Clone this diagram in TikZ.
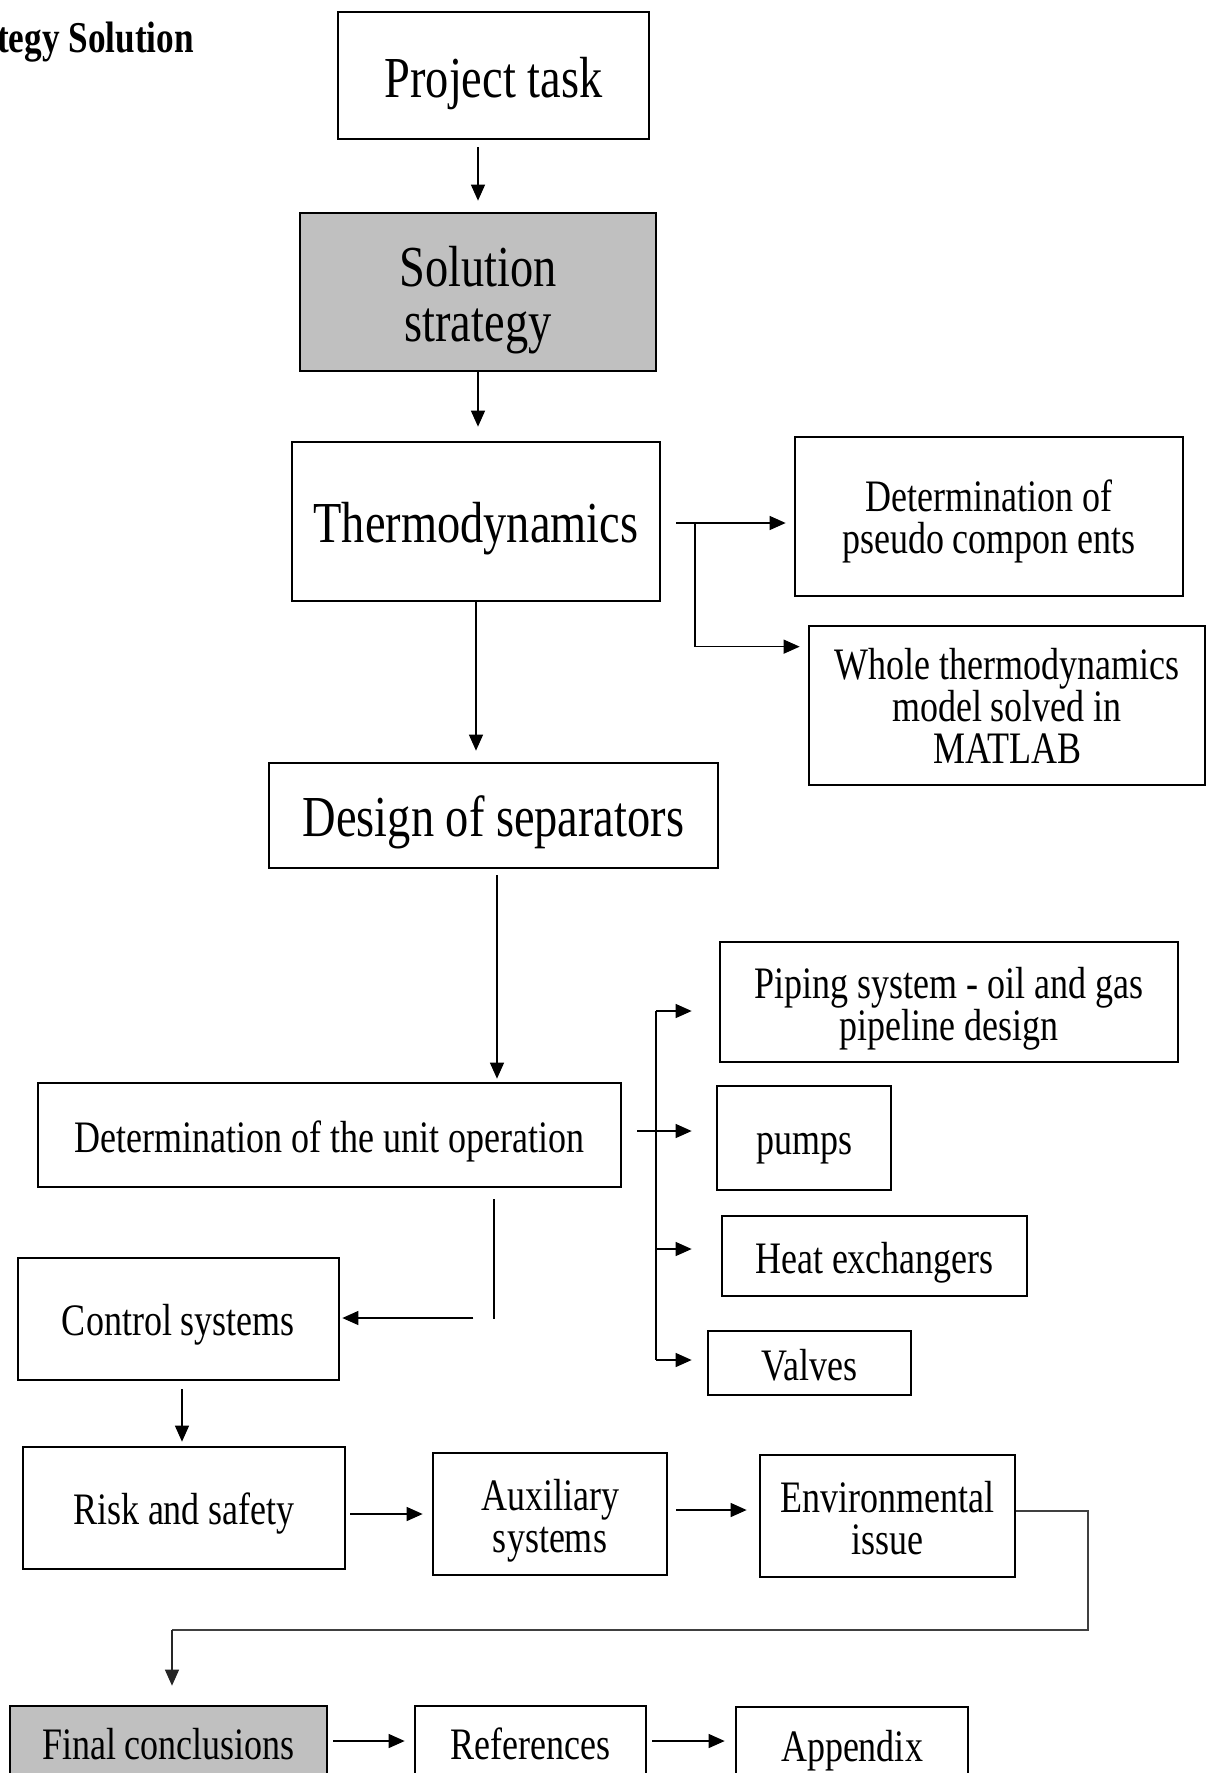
\documentclass[tikz,border=0pt]{standalone}
\usepackage{fontspec}
\usetikzlibrary{arrows.meta,calc}
\newfontfamily\tnr[FakeStretch=0.8]{Liberation Serif}
\newcommand{\bigtxt}{\tnr\fontsize{58}{55}\selectfont}
\newcommand{\midtxt}{\tnr\fontsize{45}{42}\selectfont}
\definecolor{boxgray}{HTML}{C0C0C0}
\tikzset{
  box/.style={draw=black, line width=2.7pt, rectangle, inner sep=0pt},
  bigtx/.style={inner sep=0pt, align=center, font=\bigtxt},
  midtx/.style={inner sep=0pt, align=center, font=\midtxt},
  arr/.style={line width=1.3pt, -{Triangle[length=16pt,width=14pt]}},
  ln/.style={line width=1.3pt},
}
\begin{document}
\begin{tikzpicture}[x=1pt,y=-1pt]
\clip (0,0) rectangle (1213,1773);
\fill[white] (0,0) rectangle (1213,1773);

\node[anchor=base west, inner sep=0pt, font={\tnr\bfseries\fontsize{44}{44}\selectfont}] (title) at (-3,52) {tegy Solution};

% boxes
\node[box, minimum width=311pt, minimum height=127pt] (proj) at (493.5,75.5) {};
\node[box, fill=boxgray, minimum width=356pt, minimum height=158pt] (sol) at (478,292) {};
\node[box, minimum width=368pt, minimum height=159pt] (thermo) at (476,521.5) {};
\node[box, minimum width=388pt, minimum height=159pt] (pseudo) at (989,516.5) {};
\node[box, minimum width=396pt, minimum height=159pt] (whole) at (1007,705.5) {};
\node[box, minimum width=449pt, minimum height=105pt] (design) at (493.5,815.5) {};
\node[box, minimum width=458pt, minimum height=120pt] (piping) at (949,1002) {};
\node[box, minimum width=583pt, minimum height=104pt] (unitop) at (329.5,1135) {};
\node[box, minimum width=174pt, minimum height=104pt] (pumps) at (804,1138) {};
\node[box, minimum width=305pt, minimum height=80pt] (heat) at (874.5,1256) {};
\node[box, minimum width=203pt, minimum height=64pt] (valves) at (809.5,1363) {};
\node[box, minimum width=321pt, minimum height=122pt] (control) at (178.5,1319) {};
\node[box, minimum width=322pt, minimum height=122pt] (risk) at (184,1508) {};
\node[box, minimum width=234pt, minimum height=122pt] (aux) at (550,1514) {};
\node[box, minimum width=255pt, minimum height=122pt] (env) at (887.5,1516) {};
\node[box, fill=boxgray, minimum width=317pt, minimum height=76pt] (final) at (168.5,1744) {};
\node[box, minimum width=231pt, minimum height=76pt] (refs) at (530.5,1744) {};
\node[box, minimum width=232pt, minimum height=76pt] (appx) at (852,1745) {};

% texts
\node[bigtx] (projT) at ([yshift=-8pt]proj.center) {Project task};
\node[bigtx] (solT) at ([yshift=-8pt]sol.center) {Solution\\strategy};
\node[bigtx] (thermoT) at ([yshift=-7pt]thermo.center) {Thermodynamics};
\node[midtx] (pseudoT) at ([yshift=-5pt]pseudo.center) {Determination of\\pseudo compon ents};
\node[midtx] (wholeT) at ([yshift=0pt]whole.center) {Whole thermodynamics\\model solved in\\MATLAB};
\node[bigtx] (designT) at ([yshift=-7pt]design.center) {Design of separators};
\node[midtx] (pipingT) at ([yshift=-7pt]piping.center) {Piping system - oil and gas\\pipeline design};
\node[midtx] (unitopT) at ([yshift=-6pt]unitop.center) {Determination of the unit operation};
\node[midtx] (pumpsT) at ([yshift=-11pt]pumps.center) {pumps};
\node[midtx] (heatT) at ([yshift=-7pt]heat.center) {Heat exchangers};
\node[midtx] (valvesT) at ([yshift=-2pt]valves.center) {Valves};
\node[midtx] (controlT) at ([yshift=-6pt]control.center) {Control systems};
\node[midtx] (riskT) at ([yshift=-5pt]risk.center) {Risk and safety};
\node[midtx] (auxT) at ([yshift=-7pt]aux.center) {Auxiliary\\systems};
\node[midtx] (envT) at ([yshift=-2pt]env.center) {Environmental\\issue};
\node[midtx] (finalT) at (final.center) {Final conclusions};
\node[midtx] (refsT) at (refs.center) {References};
\node[midtx] (appxT) at ([yshift=-6pt]appx.center) {Appendix};

% main vertical flow
\draw[arr] ([yshift=-7pt]proj.south -| sol.center) -- ([yshift=11pt]sol.north);
\draw[arr] (sol.south) -- ([yshift=14pt]thermo.north -| sol.south);
\draw[arr] (thermo.south) -- ([yshift=11pt]design.north -| thermo.south);
\draw[arr] ([xshift=3.5pt,yshift=-6pt]design.south) -- ([xshift=167.5pt,yshift=3pt]unitop.north);

% thermodynamics branches
\coordinate (tb) at (695,523);
\draw[arr] ([xshift=15pt,yshift=-1.5pt]thermo.east) -- ([xshift=-8pt]pseudo.west |- tb);
\draw[arr] (tb) |- ([xshift=-8pt,yshift=-22pt]whole.north west);

% unit operation branches
\coordinate (t1) at (656,1011);
\coordinate (t4) at (656,1360);
\draw[ln] (t1) -- (t4);
\draw[arr] (t1) -- ([xshift=-27pt,yshift=-9pt]piping.west);
\draw[arr] ([xshift=15pt,yshift=4pt]unitop.east) -- ([xshift=-24pt,yshift=7pt]pumps.west);
\draw[arr] (656,1249) -- ([xshift=-29pt,yshift=7pt]heat.west);
\draw[arr] (t4) -- ([xshift=-15pt,yshift=3pt]valves.west);

% unit operation to control systems
\draw[ln] ([xshift=164.5pt,yshift=-11pt]unitop.south) -- ([xshift=164.5pt,yshift=-131pt]unitop.south);
\draw[arr] ([xshift=133pt,yshift=1pt]control.east) -- ([xshift=2pt,yshift=1pt]control.east);

% lower flow
\draw[arr] ([xshift=3.5pt,yshift=-8pt]control.south) -- ([xshift=-2pt,yshift=4pt]risk.north);
\draw[arr] ([xshift=4pt,yshift=-6pt]risk.east) -- ([xshift=-9pt]aux.west);
\draw[arr] ([xshift=8pt,yshift=4pt]aux.east) -- ([xshift=-12pt,yshift=6pt]env.west);
\draw[line width=1.3pt, black!75] ([yshift=5pt]env.east) -- (1088,1511) -- (1088,1630) -- (172,1630);
\draw[arr, black!85] (172,1630) -- ([xshift=3.5pt,yshift=19pt]final.north);
\draw[arr] ([xshift=5pt,yshift=3pt]final.east) -- ([xshift=-9pt,yshift=3pt]refs.west);
\draw[arr] ([xshift=5pt,yshift=3pt]refs.east) -- ([xshift=-10pt,yshift=4pt]appx.west);
\end{tikzpicture}
\end{document}
